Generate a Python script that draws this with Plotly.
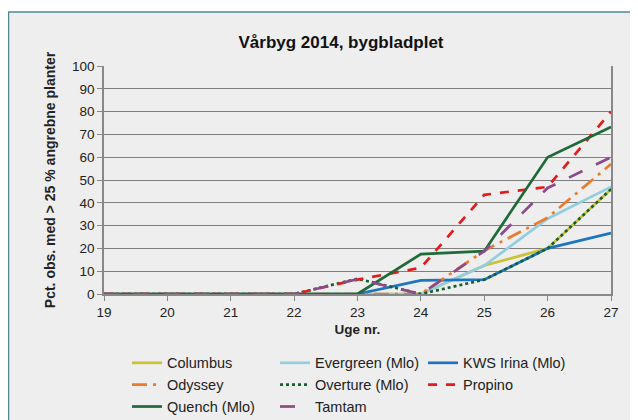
import plotly.graph_objects as go

# =========================
# DATA
# =========================
weeks = [19, 20, 21, 22, 23, 24, 25, 26, 27]

columbus = [0, 0, 0, 0, 0, 0, 12.5, 20, 46]
evergreen = [0, 0, 0, 0, 0, 0, 12.5, 33, 47]
kws_irina = [0, 0, 0, 0, 0, 6, 6.3, 20, 26.7]
odyssey = [0, 0, 0, 0, 0, 0, 19, 33.5, 57]
overture = [0, 0, 0, 0, 6.7, 0, 6.3, 20, 46]
propino = [0, 0, 0, 0, 6.3, 11.5, 43.5, 47, 80]
quench = [0, 0, 0, 0, 0, 17.5, 18.8, 60, 73.3]
tamtam = [0, 0, 0, 0, 6.5, 0, 18.8, 46.5, 60]

series = [
    ("Columbus", columbus, "#c9c233", "solid"),
    ("Evergreen (Mlo)", evergreen, "#93cde0", "solid"),
    ("KWS Irina (Mlo)", kws_irina, "#1c74c2", "solid"),
    ("Odyssey", odyssey, "#ec7c2c", "longdashdot"),
    ("Overture (Mlo)", overture, "#16602e", "dot"),
    ("Propino", propino, "#e41b1b", "dash"),
    ("Quench (Mlo)", quench, "#1e6a38", "solid"),
    ("Tamtam", tamtam, "#8c4a8c", "longdash"),
]

fig = go.Figure()

for name, vals, color, dash in series:
    fig.add_trace(
        go.Scatter(
            x=weeks,
            y=vals,
            mode="lines",
            name=name,
            line=dict(color=color, width=2.7, dash=dash)
        )
    )

# Chart border (Excel-like frame)
fig.add_shape(
    type="rect", xref="paper", yref="paper",
    x0=-0.1884, x1=1.1, y0=-0.7, y1=1.2368,
    line=dict(color="#4f8a93", width=1.5),
    fillcolor="#eeeeee", layer="below"
)

# page body adds 8px margin, so the figure is 630x412
fig.update_layout(
    width=630,
    height=412,
    paper_bgcolor="white",
    plot_bgcolor="rgba(0,0,0,0)",
    margin=dict(l=96, r=27, t=58, b=126, autoexpand=False),
    font=dict(family="Liberation Sans, Arial, sans-serif", color="#222222", size=13),
    title=dict(
        text="<b>Vårbyg 2014, bygbladplet</b>",
        x=333 / 630, xanchor="center",
        y=1 - 34 / 412, yanchor="middle",
        font=dict(size=17, color="#111111")
    ),
    xaxis=dict(
        range=[19, 27],
        tickmode="array",
        tickvals=weeks,
        ticks="outside",
        ticklen=5,
        tickcolor="#888888",
        showgrid=False,
        showline=True,
        linecolor="#888888",
        linewidth=1.5,
        zeroline=False,
        title=dict(text="<b>Uge nr.</b>", font=dict(size=13.5), standoff=6),
        tickfont=dict(size=13.5)
    ),
    yaxis=dict(
        range=[0, 100],
        dtick=10,
        ticks="outside",
        ticklen=5,
        tickcolor="#888888",
        showgrid=True,
        gridcolor="#7f7f7f",
        gridwidth=1,
        showline=True,
        mirror=True,
        linecolor="#888888",
        linewidth=1.5,
        zeroline=False,
        title=dict(text="<b>Pct. obs. med > 25 % angrebne planter</b>",
                   font=dict(size=14), standoff=13),
        tickfont=dict(size=13.5)
    ),
    legend=dict(
        orientation="h",
        x=0.0454,
        xanchor="left",
        y=-0.232,
        yanchor="top",
        entrywidth=103,
        entrywidthmode="pixels",
        bgcolor="rgba(0,0,0,0)",
        font=dict(size=14.5),
        tracegroupgap=0
    ),
    showlegend=True
)

fig.write_html("out.html")
